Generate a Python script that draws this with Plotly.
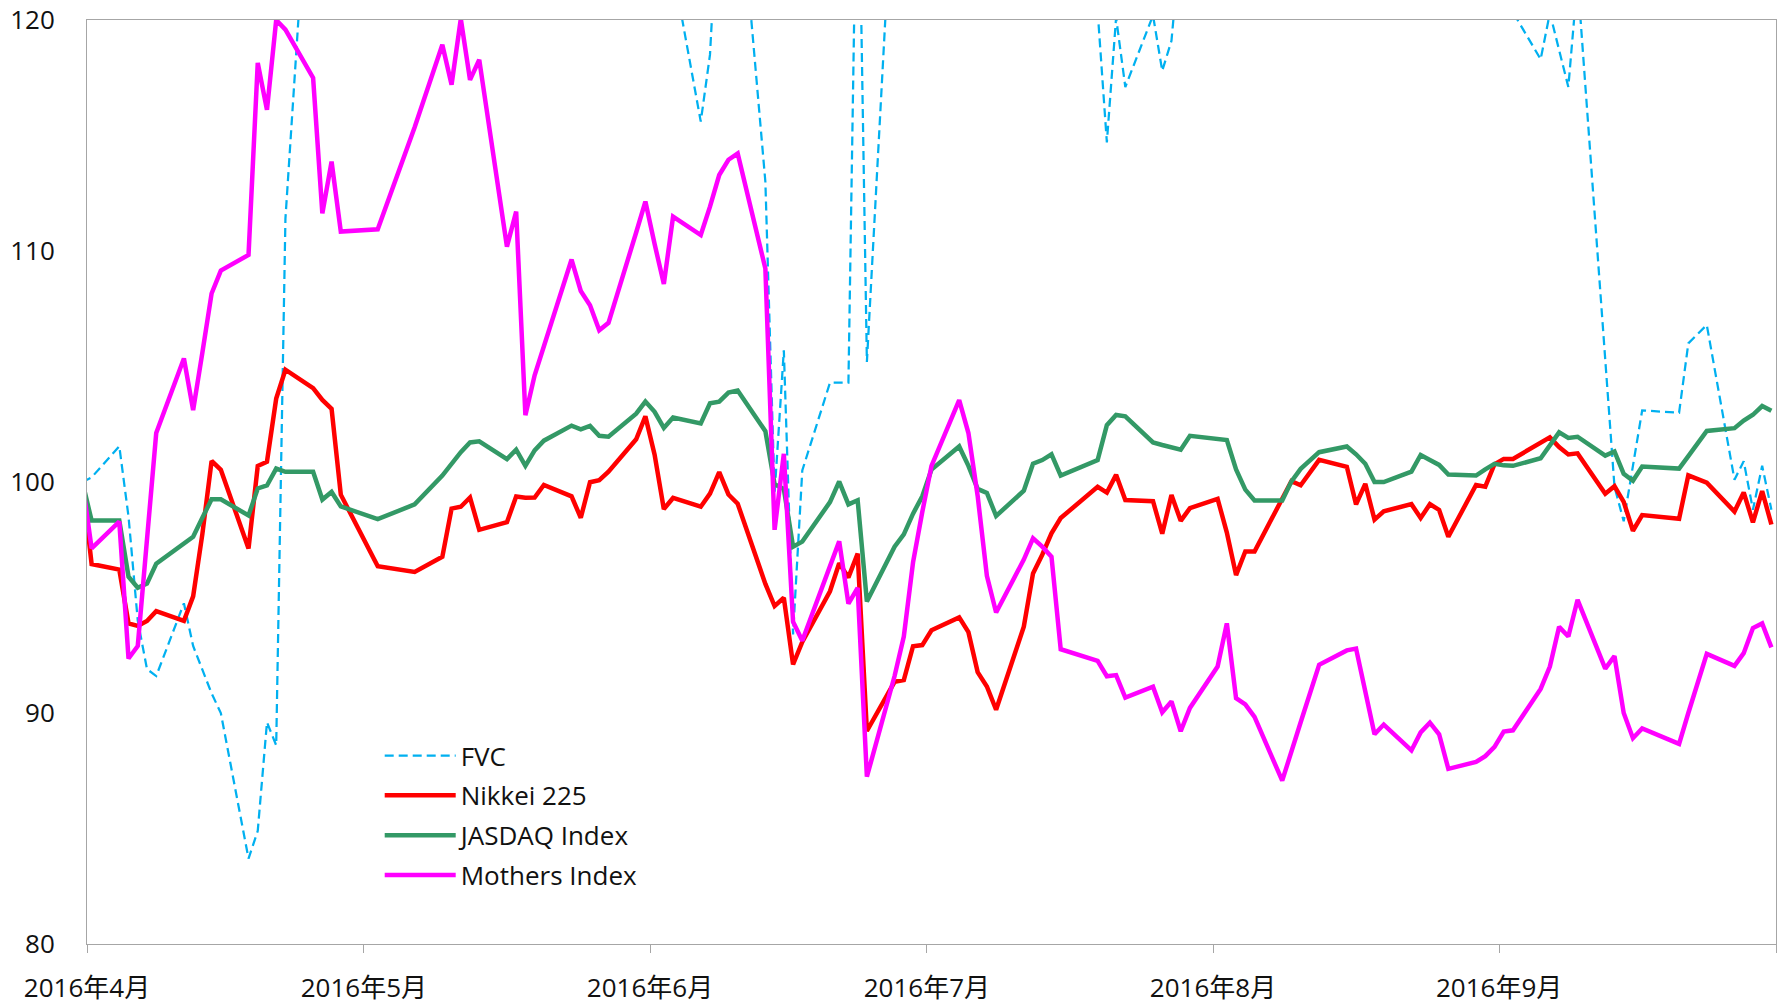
import plotly.graph_objects as go

# ---- data (index, 2016-03-31 = 100) ----
dates = [
    "2016-03-31",
    "2016-04-01", "2016-04-04", "2016-04-05", "2016-04-06", "2016-04-07", "2016-04-08",
    "2016-04-11", "2016-04-12", "2016-04-13", "2016-04-14", "2016-04-15",
    "2016-04-18", "2016-04-19", "2016-04-20", "2016-04-21", "2016-04-22",
    "2016-04-25", "2016-04-26", "2016-04-27", "2016-04-28",
    "2016-05-02", "2016-05-06",
    "2016-05-09", "2016-05-10", "2016-05-11", "2016-05-12", "2016-05-13",
    "2016-05-16", "2016-05-17", "2016-05-18", "2016-05-19", "2016-05-20",
    "2016-05-23", "2016-05-24", "2016-05-25", "2016-05-26", "2016-05-27",
    "2016-05-30", "2016-05-31",
    "2016-06-01", "2016-06-02", "2016-06-03",
    "2016-06-06", "2016-06-07", "2016-06-08", "2016-06-09", "2016-06-10",
    "2016-06-13", "2016-06-14", "2016-06-15", "2016-06-16", "2016-06-17",
    "2016-06-20", "2016-06-21", "2016-06-22", "2016-06-23", "2016-06-24",
    "2016-06-27", "2016-06-28", "2016-06-29", "2016-06-30",
    "2016-07-01",
    "2016-07-04", "2016-07-05", "2016-07-06", "2016-07-07", "2016-07-08",
    "2016-07-11", "2016-07-12", "2016-07-13", "2016-07-14", "2016-07-15",
    "2016-07-19", "2016-07-20", "2016-07-21", "2016-07-22",
    "2016-07-25", "2016-07-26", "2016-07-27", "2016-07-28", "2016-07-29",
    "2016-08-01", "2016-08-02", "2016-08-03", "2016-08-04", "2016-08-05",
    "2016-08-08", "2016-08-09", "2016-08-10", "2016-08-12",
    "2016-08-15", "2016-08-16", "2016-08-17", "2016-08-18", "2016-08-19",
    "2016-08-22", "2016-08-23", "2016-08-24", "2016-08-25", "2016-08-26",
    "2016-08-29", "2016-08-30", "2016-08-31",
    "2016-09-01", "2016-09-02",
    "2016-09-05", "2016-09-06", "2016-09-07", "2016-09-08", "2016-09-09",
    "2016-09-12", "2016-09-13", "2016-09-14", "2016-09-15", "2016-09-16",
    "2016-09-20", "2016-09-21", "2016-09-23",
    "2016-09-26", "2016-09-27", "2016-09-28", "2016-09-29", "2016-09-30",
]

fvc = [
    100.00,
    100.20, 101.55, 98.50, 94.00, 91.90, 91.60, 94.75, 92.90, 91.85, 90.85, 90.00,
    83.70, 84.90, 89.60, 88.60, 111.40, 129.80, 136.00, 142.00, 150.00,
    146.00, 152.00, 160.00, 155.00, 158.00, 150.00, 147.00, 140.00, 143.00, 138.00,
    136.00, 141.00, 145.00, 139.00, 137.00, 134.00, 131.00, 129.00, 127.00,
    125.00, 124.00, 122.20, 115.60, 118.50, 126.00, 130.00, 126.80, 113.00, 99.50,
    105.70, 93.40, 100.50, 104.30, 104.30, 104.30, 129.60, 105.20, 127.50, 135.00,
    140.00, 145.00,
    150.00, 148.00, 142.00, 138.00, 135.00, 132.00, 130.00, 134.00, 131.00, 128.00,
    125.00, 120.40, 114.70, 120.10, 117.10, 120.20, 117.80, 119.10, 124.00, 128.00,
    132.00, 130.00, 127.00, 129.00, 131.00, 135.00, 138.00, 136.00, 140.00, 143.00,
    139.00, 141.00, 137.00, 135.00, 133.00, 131.00, 134.00, 132.00, 129.00, 127.00,
    125.00, 123.00,
    122.00, 120.34, 118.30, 120.30, 118.70, 117.10, 121.80, 105.30, 99.80, 98.30,
    100.70, 103.10, 103.00, 106.00, 106.80, 100.10, 100.90, 98.80, 100.70, 98.80,
]

nikkei = [
    100.00,
    96.45, 96.21, 93.88, 93.77, 93.98, 94.41, 93.99, 95.05, 97.75, 100.91, 100.53,
    97.12, 100.69, 100.88, 103.61, 104.86, 104.06, 103.55, 103.17, 99.45,
    96.35, 96.11, 96.76, 98.85, 98.93, 99.33, 97.93, 98.26, 99.37, 99.32,
    99.33, 99.87, 99.38, 98.45, 99.99, 100.08, 100.45, 101.85, 102.84,
    101.18, 98.83, 99.31, 98.93, 99.50, 100.43, 99.46, 99.06, 95.59, 94.63,
    94.99, 92.10, 93.08, 95.27, 96.48, 95.87, 96.90, 89.22, 91.35, 91.43,
    92.89, 92.94,
    93.58, 94.14, 93.50, 91.77, 91.15, 90.14, 93.74, 96.04, 96.85, 97.78,
    98.44, 99.79, 99.54, 100.31, 99.22, 99.17, 97.76, 99.44, 98.32, 98.87,
    99.27, 97.81, 95.97, 96.99, 96.99, 99.35, 100.04, 99.86, 100.96, 100.66,
    99.03, 99.92, 98.37, 98.73, 99.04, 98.44, 99.04, 98.79, 97.63, 99.87,
    99.80, 100.77,
    101.00, 101.00, 101.66, 101.93, 101.51, 101.19, 101.24, 99.49, 99.82, 99.14,
    97.89, 98.57, 98.41, 100.29, 99.97, 98.72, 99.55, 98.25, 99.61, 98.16,
]

jasdaq = [
    100.00,
    98.33, 98.33, 95.90, 95.42, 95.60, 96.46, 97.30, 97.63, 98.45, 99.25, 99.25,
    98.55, 99.72, 99.85, 100.58, 100.44, 100.44, 99.24, 99.57, 98.94,
    98.39, 99.03, 100.28, 100.79, 101.29, 101.71, 101.76, 100.99, 101.40, 100.70,
    101.37, 101.79, 102.44, 102.28, 102.43, 102.00, 101.96, 102.96, 103.48,
    103.04, 102.34, 102.79, 102.54, 103.41, 103.48, 103.87, 103.96, 102.20, 99.90,
    99.70, 97.20, 97.42, 99.13, 100.02, 99.03, 99.21, 94.83, 97.20, 97.73,
    98.63, 99.38,
    100.54, 101.54, 100.70, 99.70, 99.53, 98.53, 99.62, 100.79, 100.95, 101.20,
    100.28, 100.95, 102.46, 102.90, 102.84, 101.71, 101.60, 101.50, 101.40, 102.00,
    101.90, 101.82, 100.54, 99.67, 99.20, 99.20, 100.03, 100.57, 101.29, 101.54,
    101.20, 100.79, 100.00, 100.00, 100.45, 101.17, 100.95, 100.74, 100.32, 100.28,
    100.55, 100.79,
    100.72, 100.70, 101.03, 101.55, 102.15, 101.91, 101.96, 101.14, 101.32, 100.35,
    100.05, 100.67, 100.58, 101.12, 102.21, 102.33, 102.66, 102.91, 103.29, 103.08,
]

mothers = [
    100.00,
    97.13, 98.28, 92.36, 92.90, 97.70, 102.12, 105.35, 103.11, 105.60, 108.16, 109.15,
    109.83, 118.14, 116.11, 120.00, 119.58, 117.49, 111.63, 113.87, 110.84,
    110.94, 115.36, 118.93, 117.20, 120.05, 117.41, 118.28, 110.19, 111.71, 102.89,
    104.62, 105.90, 109.63, 108.27, 107.65, 106.57, 106.89, 110.80, 112.14,
    110.30, 108.57, 111.49, 110.69, 111.92, 113.29, 113.95, 114.22, 109.24, 97.93,
    101.22, 93.95, 93.13, 96.38, 97.43, 94.73, 95.42, 87.24, 91.60, 93.31,
    96.52, 98.70,
    100.70, 103.54, 102.12, 99.40, 95.94, 94.35, 96.64, 97.56, 97.20, 96.77,
    92.76, 92.26, 91.59, 91.64, 90.67, 91.14, 90.03, 90.50, 89.21, 90.22,
    92.01, 93.88, 90.64, 90.37, 89.83, 87.07, 88.38, 89.60, 92.09, 92.71,
    92.79, 91.00, 89.08, 89.50, 88.38, 89.16, 89.58, 89.08, 87.58, 87.88,
    88.13, 88.53,
    89.20, 89.25, 91.04, 92.01, 93.73, 93.31, 94.90, 91.92, 92.46, 90.00,
    88.91, 89.33, 88.66, 90.00, 92.56, 92.04, 92.59, 93.68, 93.88, 92.84,
]

series_names = ["FVC", "Nikkei 225", "JASDAQ Index", "Mothers Index"]
month_tick_dates = ["2016-03-31 12:00", "2016-04-30 12:00", "2016-05-31 12:00",
                    "2016-06-30 12:00", "2016-07-31 12:00", "2016-08-31 12:00",
                    "2016-09-30 12:00"]
month_labels = ["2016年4月", "2016年5月", "2016年6月", "2016年7月", "2016年8月", "2016年9月", ""]
y_ticks = [80, 90, 100, 110, 120]

for s in (fvc, nikkei, jasdaq, mothers):
    assert len(s) == len(dates)

FONT = "Open Sans, Noto Sans CJK JP, sans-serif"
AXIS_GREY = "#A6A6A6"

fig = go.Figure()
styles = [
    dict(color="#00B0F0", width=2.25, dash="9px,5px"),
    dict(color="#FF0000", width=4.5),
    dict(color="#339966", width=4.5),
    dict(color="#FF00FF", width=4.5),
]
for name, vals, st in zip(series_names, [fvc, nikkei, jasdaq, mothers], styles):
    fig.add_trace(go.Scatter(x=dates, y=vals, name=name, mode="lines",
                             line=st, legendgroup=name))

fig.update_layout(
    width=1788, height=1006,
    margin=dict(l=87, r=12, t=20, b=62, autoexpand=False),
    paper_bgcolor="white", plot_bgcolor="white",
    font=dict(family=FONT, size=26, color="#111111"),
    showlegend=True,
    legend=dict(x=0.1733, y=0.2293, xanchor="left", yanchor="top",
                bgcolor="rgba(0,0,0,0)", borderwidth=0,
                itemwidth=71, tracegroupgap=3, traceorder="grouped",
                font=dict(family=FONT, size=26, color="#111111")),
)
fig.update_xaxes(
    type="date", automargin=False,
    range=["2016-03-31 12:00", "2016-09-30 12:00"],
    tickmode="array", tickvals=month_tick_dates, ticktext=month_labels,
    ticks="outside", ticklen=8, tickwidth=1, tickcolor=AXIS_GREY,
    showline=True, linecolor=AXIS_GREY, linewidth=1, mirror=True,
    showgrid=False, zeroline=False, ticklabelstandoff=13,
)
fig.update_yaxes(
    range=[80, 120], tickmode="array", tickvals=y_ticks, automargin=False,
    ticks="", showline=True, linecolor=AXIS_GREY, linewidth=1, mirror=True,
    showgrid=False, zeroline=False, ticklabelstandoff=26,
)

fig.write_html("out.html", config={"displayModeBar": False},
               post_script="document.body.style.margin='0';document.body.style.overflow='hidden';")
